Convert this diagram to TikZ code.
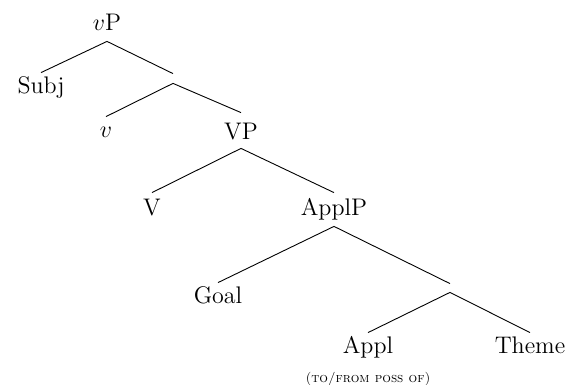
\documentclass[tikz,border=0pt]{standalone}
\begin{document}
\begin{tikzpicture}[x=0.5pt,y=-0.5pt,
  lab/.style={anchor=base,inner sep=0pt,font=\fontsize{12pt}{14pt}\selectfont},
  gap/.style={inner sep=0pt,minimum width=0pt,minimum height=#1},
  branch/.style={line width=0.45pt},
  note/.style={anchor=base,inner sep=0pt,font=\fontsize{6.8pt}{8pt}\selectfont\scshape}]
\useasboundingbox (0,0) rectangle (570,385);
\node[lab,text height=12pt,text depth=5pt] (vP) at (107,31) {$v$P};
\node[lab,text height=10.5pt,text depth=0pt] (Subj) at (41,94) {Subj};
\node[gap=4.5pt] (e1) at (173,78.5) {};
\node[lab,text height=10.5pt,text depth=0pt] (v) at (106,138) {$v$};
\node[lab,text height=13.5pt,text depth=4pt] (VP) at (241,140) {VP};
\node[lab,text height=11.5pt,text depth=0pt] (V) at (152,216) {V};
\node[lab,text height=11.5pt,text depth=5pt] (ApplP) at (334,216) {ApplP};
\node[lab,text height=10.5pt,text depth=0pt] (Goal) at (218,304) {Goal};
\node[gap=4pt] (e2) at (450,288) {};
\node[lab,text height=10.5pt,text depth=0pt] (Appl) at (368,354) {Appl};
\node[lab,text height=10.5pt,text depth=0pt] (Theme) at (530,354) {Theme};
\node[note] (poss) at (368,383) {(to/from poss of)};
\draw[branch] (vP.south) -- (Subj.north);
\draw[branch] (vP.south) -- (e1.north);
\draw[branch] (e1.south) -- (v.north);
\draw[branch] (e1.south) -- (VP.north);
\draw[branch] (VP.south) -- (V.north);
\draw[branch] (VP.south) -- (ApplP.north);
\draw[branch] (ApplP.south) -- (Goal.north);
\draw[branch] (ApplP.south) -- (e2.north);
\draw[branch] (e2.south) -- (Appl.north);
\draw[branch] (e2.south) -- (Theme.north);
\end{tikzpicture}
\end{document}
